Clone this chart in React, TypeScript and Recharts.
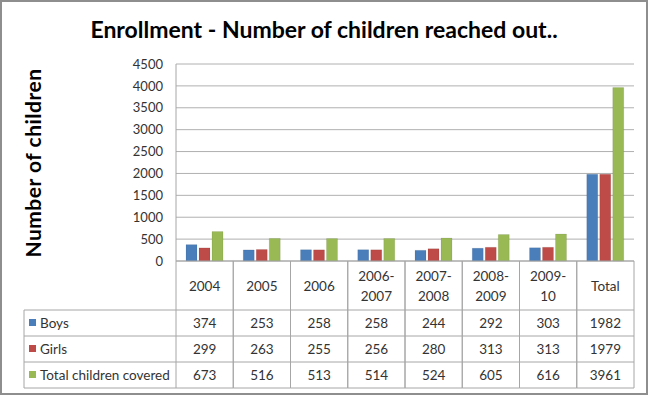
import { BarChart, Bar, XAxis, YAxis, CartesianGrid } from "recharts";

const categories = ["2004", "2005", "2006", "2006-2007", "2007-2008", "2008-2009", "2009-10", "Total"];
const headerLines = [["2004"], ["2005"], ["2006"], ["2006-", "2007"], ["2007-", "2008"], ["2008-", "2009"], ["2009-", "10"], ["Total"]];
const boys = [374, 253, 258, 258, 244, 292, 303, 1982];
const girls = [299, 263, 255, 256, 280, 313, 313, 1979];
const totalCovered = [673, 516, 513, 514, 524, 605, 616, 3961];
const yTicks = [0, 500, 1000, 1500, 2000, 2500, 3000, 3500, 4000, 4500];

const series = [
  { key: "boys", name: "Boys", color: "#4a7ebb", values: boys },
  { key: "girls", name: "Girls", color: "#be4b48", values: girls },
  { key: "total", name: "Total children covered", color: "#98b954", values: totalCovered },
];

const data = categories.map((c, i) => ({
  name: c,
  boys: boys[i],
  girls: girls[i],
  total: totalCovered[i],
}));

const W = 650;
const H = 396;
const plotLeft = 176;
const plotRight = 634;
const colW = (plotRight - plotLeft) / categories.length;
const lineColor = "#a6a6a6";
const font = "Lato, 'Open Sans', sans-serif";

const ColumnTick = (props: any) => {
  const { x, y, payload } = props;
  const i = payload.index;
  const left = x - colW / 2;
  const right = x + colW / 2;
  const headerBottom = y + 49;
  const rowH = 26;
  const rows = [headerBottom, headerBottom + rowH, headerBottom + rowH * 2, headerBottom + rowH * 3];
  const lines = headerLines[i];
  const headMid = (y + headerBottom) / 2;
  return (
    <g>
      <line x1={left} y1={y} x2={left} y2={rows[3]} stroke={lineColor} />
      <line x1={right} y1={y} x2={right} y2={rows[3]} stroke={lineColor} />
      {rows.map((ry, k) => (
        <line key={k} x1={left} y1={ry} x2={right} y2={ry} stroke={lineColor} />
      ))}
      {lines.map((t, k) => (
        <text
          key={k}
          x={x}
          y={headMid + (k - (lines.length - 1) / 2) * 20}
          textAnchor="middle"
          dominantBaseline="central"
          fontSize={13.5}
          fontFamily={font}
          fill="#333"
        >
          {t}
        </text>
      ))}
      {series.map((s, k) => (
        <text
          key={s.key}
          x={x}
          y={rows[k] + rowH / 2}
          textAnchor="middle"
          dominantBaseline="central"
          fontSize={13.5}
          fontFamily={font}
          fill="#333"
        >
          {s.values[i]}
        </text>
      ))}
      {i === 0 && (
        <g>
          <line x1={24} y1={rows[0]} x2={left} y2={rows[0]} stroke={lineColor} />
          {series.map((s, k) => (
            <g key={s.key}>
              <line x1={24} y1={rows[k + 1]} x2={left} y2={rows[k + 1]} stroke={lineColor} />
              <rect x={29} y={rows[k] + rowH / 2 - 4} width={7} height={7} fill={s.color} />
              <text
                x={40}
                y={rows[k] + rowH / 2}
                dominantBaseline="central"
                fontSize={13.5}
                fontFamily={font}
                fill="#333"
              >
                {s.name}
              </text>
            </g>
          ))}
          <line x1={24} y1={rows[0]} x2={24} y2={rows[3]} stroke={lineColor} />
        </g>
      )}
    </g>
  );
};

export default function App() {
  return (
    <div style={{ position: "absolute", left: 0, top: 0, width: W, height: H, background: "#fff" }}>
      <div
        style={{
          position: "absolute",
          left: 0,
          top: 0,
          width: 648,
          height: 395,
          boxSizing: "border-box",
          border: "2px solid #8e8e8e",
        }}
      />
      <div
        style={{
          position: "absolute",
          left: 0,
          top: 15,
          width: 648,
          textAlign: "center",
          fontFamily: font,
          fontWeight: "bold",
          fontSize: 23,
          color: "#000",
        }}
      >
        Enrollment - Number of children reached out..
      </div>
      <div
        style={{
          position: "absolute",
          left: 32,
          top: 163,
          transform: "translate(-50%, -50%) rotate(-90deg)",
          whiteSpace: "nowrap",
          fontFamily: font,
          fontWeight: "bold",
          fontSize: 21,
          letterSpacing: 0.5,
          color: "#000",
        }}
      >
        Number of children
      </div>
      <div style={{ position: "absolute", left: 0, top: 0 }}>
        <BarChart
          width={W}
          height={H}
          data={data}
          margin={{ top: 64, right: W - plotRight, bottom: 8, left: 0 }}
          barCategoryGap={10}
          barGap={2}
        >
          <CartesianGrid vertical={false} stroke="#b0b0b0" />
          <XAxis
            dataKey="name"
            height={127}
            axisLine={{ stroke: lineColor }}
            tickLine={false}
            tickSize={0}
            tickMargin={0}
            interval={0}
            tick={<ColumnTick />}
          />
          <YAxis
            width={plotLeft}
            domain={[0, 4500]}
            ticks={yTicks}
            interval={0}
            axisLine={{ stroke: lineColor }}
            tickLine={false}
            tickSize={0}
            tickMargin={13}
            tick={{ fontSize: 13, fontFamily: font, fill: "#333" }}
          />
          {series.map((s) => (
            <Bar
              key={s.key}
              dataKey={s.key}
              name={s.name}
              fill={s.color}
              stroke="rgba(0,0,0,0.08)"
              isAnimationActive={false}
            />
          ))}
        </BarChart>
      </div>
    </div>
  );
}
